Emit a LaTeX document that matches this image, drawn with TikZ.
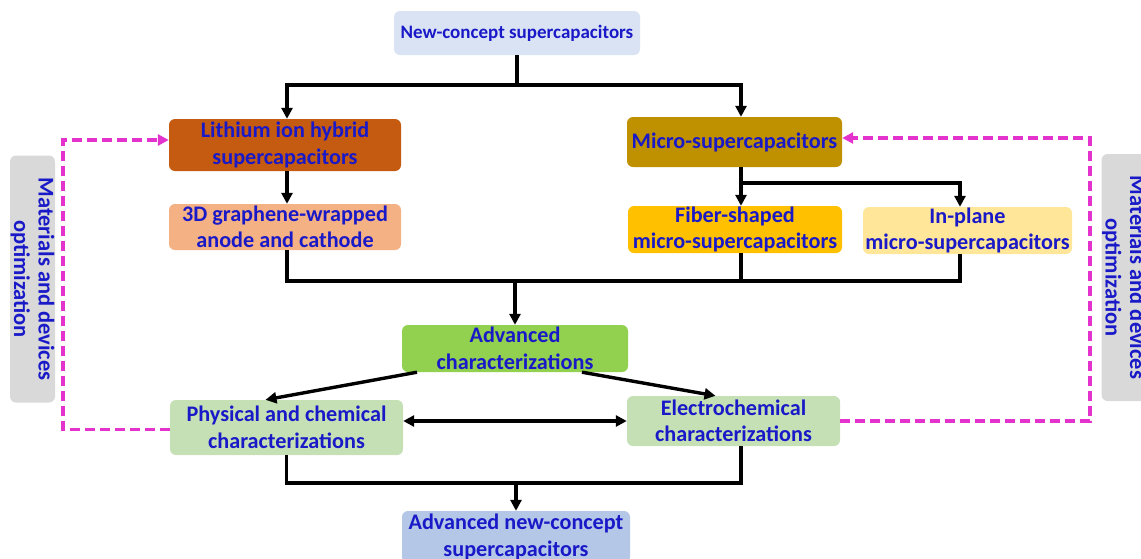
\documentclass[tikz,border=0pt]{standalone}
\usepackage{fontspec}
\setmainfont{Carlito}
\usetikzlibrary{arrows.meta,calc}
\definecolor{txt}{RGB}{25,25,200}
\definecolor{cTop}{RGB}{218,227,243}
\definecolor{cLith}{RGB}{197,90,17}
\definecolor{cMicro}{RGB}{191,144,0}
\definecolor{cGra}{RGB}{244,177,131}
\definecolor{cFib}{RGB}{255,192,0}
\definecolor{cInp}{RGB}{255,230,153}
\definecolor{cAdv}{RGB}{146,208,80}
\definecolor{cChar}{RGB}{197,224,180}
\definecolor{cFin}{RGB}{180,199,231}
\definecolor{cGrey}{RGB}{217,217,217}
\definecolor{mag}{RGB}{228,50,205}
\tikzset{
  box/.style={rounded corners=6pt, inner sep=0pt, align=center, text=txt,
    font=\fontsize{22.2}{26.5}\selectfont\bfseries},
  ln/.style={line width=3.4pt, black},
  arr/.style={ln, -{Triangle[length=11pt,width=11pt]}},
  darr/.style={ln, {Triangle[length=11pt,width=11pt]}-{Triangle[length=11pt,width=11pt]}},
  magl/.style={line width=3.2pt, mag, dash pattern=on 10pt off 5pt, -{Triangle[length=11pt,width=11pt]}},
  side/.style={rounded corners=6pt, fill=cGrey, minimum width=45pt, minimum height=247pt, inner sep=0pt},
  sidetxt/.style={rotate=-90, align=center, text=txt, font=\fontsize{22.5}{24.5}\selectfont\bfseries}
}
\begin{document}
\begin{tikzpicture}[x=1pt,y=-1pt]
\useasboundingbox (0,0) rectangle (1141,558);
\clip (0,0) rectangle (1141,558);
% nodes
\node[box, fill=cTop, minimum width=246pt, minimum height=44pt, font=\fontsize{19}{23}\selectfont\bfseries] (top) at (517,33) {New-concept supercapacitors};
\node[box, fill=cLith, minimum width=232pt, minimum height=52pt] (lith) at (285,145) {Lithium ion hybrid\\supercapacitors};
\node[box, fill=cMicro, minimum width=215pt, minimum height=50pt] (micro) at (734.5,142) {Micro-supercapacitors};
\node[box, fill=cGra, minimum width=232pt, minimum height=46pt] (g3d) at (285,227) {3D graphene-wrapped\\anode and cathode};
\node[box, fill=cFib, minimum width=214pt, minimum height=47pt] (fiber) at (735,229.5) {Fiber-shaped\\micro-supercapacitors};
\node[box, fill=cInp, minimum width=209pt, minimum height=47pt] (inplane) at (967.5,230.5) {In-plane\\micro-supercapacitors};
\node[box, fill=cAdv, minimum width=226pt, minimum height=47pt] (advc) at (515,348.5) {Advanced\\characterizations};
\node[box, fill=cChar, minimum width=233pt, minimum height=55pt] (phys) at (286.5,427.5) {Physical and chemical\\characterizations};
\node[box, fill=cChar, minimum width=213pt, minimum height=50pt] (elec) at (733.5,421) {Electrochemical\\characterizations};
\node[box, fill=cFin, minimum width=228pt, minimum height=52pt] (fin) at (516,537) {Advanced new-concept\\supercapacitors};
\node[side] (greyL) at (32.5,279) {};
\node[sidetxt] (greyLt) at (greyL) {Materials and devices\\optimization};
\node[side] (greyR) at (1124,277.5) {};
\node[sidetxt] (greyRt) at (greyR) {Materials and devices\\optimization};
% top split
\coordinate (j1) at (517,85);
\draw[ln] (top.south) -- (j1);
\draw[arr] (j1) -| ([xshift=2pt]lith.north);
\draw[arr] (j1) -| ([xshift=6.5pt]micro.north);
\draw[arr] ([xshift=2pt]lith.south) -- ([xshift=2pt]g3d.north);
% micro split
\draw[arr] ([xshift=6.5pt]micro.south) -- ([xshift=6pt]fiber.north);
\coordinate (j2) at (741,183);
\draw[arr] (j2) -| ([xshift=-7.5pt]inplane.north);
% merge to advanced characterizations
\coordinate (j3) at (515,281);
\draw[ln] ([xshift=2pt]g3d.south) |- ([xshift=-7.5pt]inplane.south |- j3) -- ([xshift=-7.5pt]inplane.south);
\draw[ln] ([xshift=6pt]fiber.south) -- ([xshift=6pt]fiber.south |- j3);
\draw[arr] (j3) -- (advc.north);
% split characterizations
\draw[arr] ([xshift=-98pt]advc.south) -- ([xshift=-21pt]phys.north);
\draw[arr] ([xshift=67pt]advc.south) -- ([xshift=-18pt]elec.north);
\draw[darr] (phys.east |- elec.west) -- (elec.west);
% merge to final
\coordinate (j4) at (516,483);
\draw[ln] (phys.south) |- ([xshift=7.5pt]elec.south |- j4) -- ([xshift=7.5pt]elec.south);
\draw[arr] (j4) -- (fin.north);
% feedback loops
\coordinate (cl) at (63,140);
\draw[magl] ([yshift=-2pt]phys.west) -| (cl) -- (lith.west |- cl);
\coordinate (cr) at (1090,138);
\draw[magl] (elec.east) -| (cr) -- (micro.east |- cr);
\end{tikzpicture}
\end{document}
